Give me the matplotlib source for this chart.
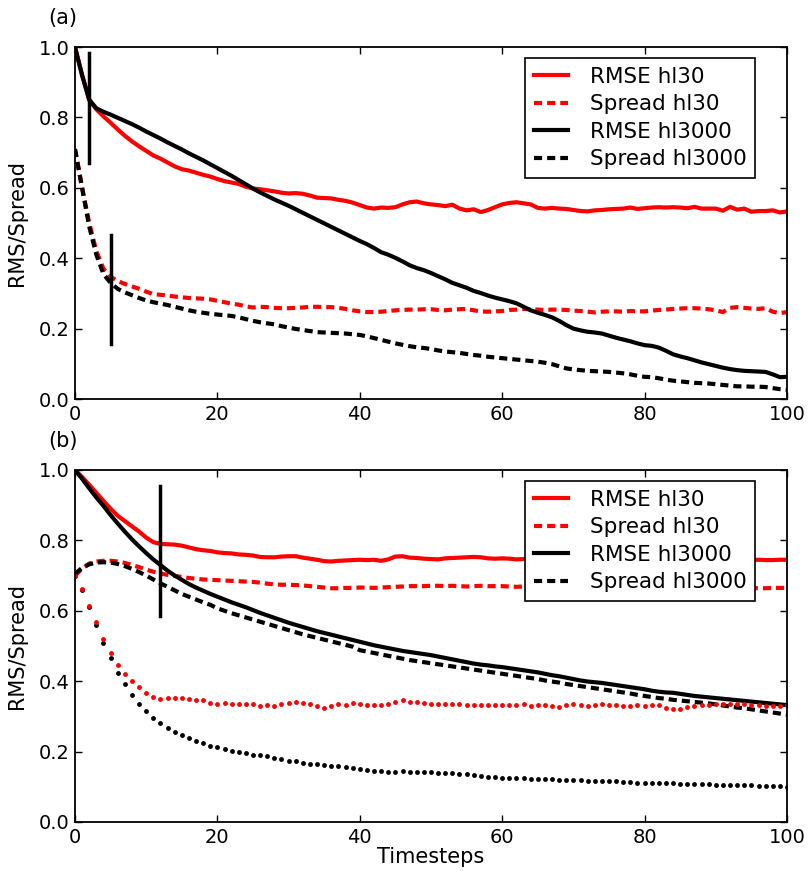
import matplotlib.pyplot as plt
import numpy as np

timesteps = np.arange(0, 101)

# panel (a)
a_rmse30 = [1.000, 0.920, 0.850, 0.823, 0.803, 0.785, 0.766, 0.748, 0.732, 0.718,
            0.705, 0.692, 0.683, 0.672, 0.661, 0.653, 0.649, 0.643, 0.637, 0.632,
            0.625, 0.619, 0.615, 0.611, 0.603, 0.598, 0.596, 0.593, 0.590, 0.586,
            0.584, 0.585, 0.583, 0.578, 0.572, 0.571, 0.570, 0.566, 0.563, 0.558,
            0.551, 0.544, 0.541, 0.544, 0.543, 0.545, 0.553, 0.559, 0.561, 0.556,
            0.553, 0.551, 0.548, 0.552, 0.541, 0.536, 0.539, 0.531, 0.537, 0.545,
            0.553, 0.557, 0.559, 0.556, 0.553, 0.543, 0.541, 0.543, 0.541, 0.540,
            0.537, 0.534, 0.533, 0.536, 0.537, 0.539, 0.540, 0.541, 0.544, 0.540,
            0.542, 0.544, 0.545, 0.544, 0.545, 0.544, 0.542, 0.546, 0.541, 0.541,
            0.541, 0.535, 0.546, 0.538, 0.541, 0.532, 0.534, 0.534, 0.536, 0.530,
            0.533]
a_spread30 = [0.710, 0.600, 0.500, 0.420, 0.370, 0.347, 0.335, 0.327, 0.320, 0.313,
              0.305, 0.298, 0.296, 0.294, 0.291, 0.289, 0.287, 0.286, 0.285, 0.283,
              0.279, 0.275, 0.271, 0.268, 0.263, 0.260, 0.262, 0.261, 0.259, 0.258,
              0.258, 0.259, 0.260, 0.262, 0.262, 0.261, 0.261, 0.259, 0.256, 0.252,
              0.249, 0.247, 0.247, 0.248, 0.250, 0.252, 0.253, 0.254, 0.254, 0.255,
              0.255, 0.253, 0.252, 0.254, 0.255, 0.256, 0.252, 0.249, 0.248, 0.249,
              0.250, 0.253, 0.254, 0.256, 0.255, 0.254, 0.253, 0.254, 0.254, 0.253,
              0.251, 0.250, 0.248, 0.246, 0.248, 0.249, 0.249, 0.248, 0.250, 0.249,
              0.249, 0.251, 0.253, 0.254, 0.256, 0.257, 0.258, 0.258, 0.257, 0.255,
              0.252, 0.247, 0.259, 0.261, 0.259, 0.257, 0.256, 0.258, 0.248, 0.244,
              0.247]
a_rmse3000 = [1.000, 0.920, 0.850, 0.826, 0.816, 0.808, 0.799, 0.790, 0.781, 0.771,
              0.760, 0.750, 0.740, 0.729, 0.719, 0.709, 0.698, 0.688, 0.678, 0.667,
              0.656, 0.645, 0.634, 0.622, 0.610, 0.598, 0.587, 0.577, 0.567, 0.558,
              0.549, 0.539, 0.529, 0.519, 0.509, 0.499, 0.489, 0.479, 0.469, 0.459,
              0.449, 0.440, 0.429, 0.417, 0.410, 0.401, 0.391, 0.380, 0.372, 0.366,
              0.358, 0.349, 0.340, 0.330, 0.323, 0.316, 0.307, 0.301, 0.294, 0.288,
              0.283, 0.278, 0.272, 0.262, 0.252, 0.245, 0.239, 0.232, 0.222, 0.210,
              0.200, 0.195, 0.191, 0.189, 0.186, 0.180, 0.174, 0.169, 0.164, 0.158,
              0.153, 0.151, 0.146, 0.137, 0.127, 0.121, 0.116, 0.110, 0.104, 0.099,
              0.094, 0.089, 0.085, 0.082, 0.080, 0.079, 0.078, 0.077, 0.070, 0.062,
              0.063]
a_spread3000 = [0.710, 0.600, 0.490, 0.410, 0.355, 0.330, 0.313, 0.303, 0.295, 0.287,
                0.280, 0.275, 0.271, 0.267, 0.262, 0.257, 0.252, 0.248, 0.245, 0.242,
                0.240, 0.238, 0.236, 0.232, 0.227, 0.222, 0.218, 0.215, 0.212, 0.207,
                0.203, 0.199, 0.196, 0.193, 0.190, 0.189, 0.188, 0.187, 0.186, 0.184,
                0.182, 0.178, 0.173, 0.168, 0.163, 0.158, 0.154, 0.150, 0.147, 0.145,
                0.142, 0.138, 0.135, 0.133, 0.131, 0.128, 0.125, 0.123, 0.120, 0.118,
                0.116, 0.114, 0.112, 0.110, 0.108, 0.106, 0.103, 0.099, 0.093, 0.087,
                0.084, 0.082, 0.080, 0.079, 0.078, 0.077, 0.075, 0.073, 0.070, 0.066,
                0.063, 0.062, 0.059, 0.055, 0.052, 0.050, 0.048, 0.046, 0.045, 0.044,
                0.042, 0.040, 0.038, 0.036, 0.036, 0.035, 0.035, 0.034, 0.031, 0.028,
                0.026]

# panel (b)
b_rmse30 = [1.000, 0.980, 0.958, 0.935, 0.912, 0.890, 0.870, 0.855, 0.840, 0.825,
            0.808, 0.795, 0.790, 0.789, 0.788, 0.785, 0.780, 0.775, 0.772, 0.770,
            0.766, 0.764, 0.763, 0.760, 0.759, 0.757, 0.753, 0.752, 0.752, 0.754,
            0.755, 0.755, 0.751, 0.748, 0.745, 0.741, 0.740, 0.742, 0.743, 0.744,
            0.745, 0.744, 0.745, 0.742, 0.746, 0.754, 0.755, 0.751, 0.750, 0.748,
            0.747, 0.746, 0.749, 0.750, 0.751, 0.752, 0.753, 0.752, 0.749, 0.748,
            0.749, 0.748, 0.746, 0.747, 0.748, 0.746, 0.745, 0.747, 0.746, 0.745,
            0.744, 0.746, 0.747, 0.745, 0.744, 0.743, 0.745, 0.746, 0.744, 0.743,
            0.744, 0.745, 0.743, 0.742, 0.744, 0.745, 0.744, 0.743, 0.745, 0.744,
            0.743, 0.742, 0.744, 0.745, 0.743, 0.744, 0.745, 0.744, 0.744, 0.745,
            0.745]
b_spread30 = [0.700, 0.720, 0.734, 0.740, 0.742, 0.742, 0.740, 0.736, 0.730, 0.724,
              0.717, 0.711, 0.706, 0.702, 0.699, 0.696, 0.693, 0.691, 0.689, 0.688,
              0.687, 0.686, 0.685, 0.684, 0.683, 0.682, 0.680, 0.677, 0.675, 0.674,
              0.674, 0.673, 0.672, 0.670, 0.668, 0.666, 0.664, 0.664, 0.665, 0.665,
              0.666, 0.666, 0.665, 0.666, 0.667, 0.668, 0.669, 0.670, 0.670, 0.670,
              0.671, 0.671, 0.670, 0.671, 0.670, 0.669, 0.670, 0.671, 0.670, 0.670,
              0.670, 0.669, 0.668, 0.669, 0.668, 0.667, 0.668, 0.667, 0.667, 0.666,
              0.667, 0.668, 0.667, 0.666, 0.666, 0.665, 0.666, 0.667, 0.666, 0.665,
              0.665, 0.666, 0.666, 0.665, 0.664, 0.665, 0.666, 0.665, 0.664, 0.664,
              0.665, 0.665, 0.664, 0.663, 0.664, 0.665, 0.664, 0.664, 0.665, 0.665,
              0.665]
b_rmse3000 = [1.000, 0.975, 0.948, 0.922, 0.898, 0.872, 0.848, 0.825, 0.803, 0.783,
              0.764, 0.746, 0.730, 0.714, 0.700, 0.688, 0.676, 0.666, 0.657, 0.648,
              0.640, 0.632, 0.624, 0.617, 0.610, 0.602, 0.594, 0.587, 0.580, 0.573,
              0.566, 0.560, 0.554, 0.548, 0.542, 0.537, 0.532, 0.527, 0.522, 0.517,
              0.512, 0.507, 0.502, 0.498, 0.494, 0.490, 0.486, 0.483, 0.480, 0.477,
              0.474, 0.470, 0.466, 0.462, 0.458, 0.454, 0.450, 0.447, 0.445, 0.442,
              0.440, 0.437, 0.434, 0.431, 0.428, 0.425, 0.421, 0.417, 0.414, 0.410,
              0.406, 0.402, 0.399, 0.397, 0.395, 0.392, 0.389, 0.386, 0.383, 0.380,
              0.377, 0.373, 0.370, 0.368, 0.367, 0.364, 0.361, 0.358, 0.356, 0.354,
              0.352, 0.350, 0.348, 0.346, 0.344, 0.342, 0.340, 0.338, 0.336, 0.334,
              0.332]
b_spread3000 = [0.705, 0.722, 0.732, 0.737, 0.738, 0.737, 0.733, 0.727, 0.719, 0.710,
                0.700, 0.689, 0.678, 0.668, 0.658, 0.648, 0.640, 0.632, 0.624, 0.617,
                0.607, 0.600, 0.593, 0.587, 0.581, 0.575, 0.569, 0.563, 0.557, 0.551,
                0.545, 0.539, 0.533, 0.528, 0.523, 0.518, 0.513, 0.508, 0.503, 0.498,
                0.488, 0.484, 0.480, 0.476, 0.472, 0.468, 0.464, 0.460, 0.457, 0.454,
                0.451, 0.448, 0.445, 0.442, 0.439, 0.436, 0.433, 0.430, 0.427, 0.424,
                0.421, 0.418, 0.415, 0.412, 0.409, 0.406, 0.402, 0.399, 0.396, 0.392,
                0.389, 0.386, 0.383, 0.380, 0.377, 0.374, 0.371, 0.368, 0.365, 0.361,
                0.358, 0.355, 0.352, 0.350, 0.347, 0.345, 0.343, 0.341, 0.339, 0.337,
                0.334, 0.331, 0.328, 0.325, 0.323, 0.320, 0.317, 0.314, 0.311, 0.308,
                0.305]
b_dots30 = [0.700, 0.662, 0.614, 0.568, 0.520, 0.480, 0.446, 0.420, 0.400, 0.384,
            0.367, 0.356, 0.350, 0.351, 0.351, 0.353, 0.349, 0.347, 0.347, 0.338,
            0.335, 0.338, 0.335, 0.335, 0.335, 0.334, 0.329, 0.333, 0.329, 0.335,
            0.337, 0.341, 0.337, 0.335, 0.329, 0.324, 0.329, 0.334, 0.333, 0.337,
            0.335, 0.333, 0.333, 0.333, 0.334, 0.341, 0.346, 0.340, 0.342, 0.338,
            0.335, 0.336, 0.334, 0.335, 0.336, 0.331, 0.332, 0.332, 0.333, 0.331,
            0.332, 0.331, 0.333, 0.334, 0.330, 0.333, 0.332, 0.330, 0.328, 0.333,
            0.335, 0.332, 0.330, 0.331, 0.334, 0.333, 0.331, 0.329, 0.330, 0.331,
            0.330, 0.331, 0.331, 0.325, 0.321, 0.320, 0.326, 0.330, 0.332, 0.333,
            0.334, 0.336, 0.335, 0.336, 0.334, 0.331, 0.332, 0.330, 0.329, 0.330,
            0.331]
b_dots3000 = [0.700, 0.660, 0.612, 0.560, 0.508, 0.465, 0.424, 0.392, 0.360, 0.335,
              0.315, 0.296, 0.280, 0.266, 0.256, 0.247, 0.238, 0.231, 0.224, 0.217,
              0.213, 0.207, 0.203, 0.199, 0.196, 0.191, 0.189, 0.187, 0.183, 0.180,
              0.174, 0.172, 0.168, 0.166, 0.164, 0.162, 0.160, 0.158, 0.156, 0.154,
              0.151, 0.149, 0.146, 0.145, 0.143, 0.143, 0.144, 0.142, 0.141, 0.142,
              0.141, 0.139, 0.138, 0.138, 0.137, 0.136, 0.133, 0.130, 0.128, 0.127,
              0.126, 0.126, 0.125, 0.124, 0.123, 0.122, 0.122, 0.121, 0.120, 0.120,
              0.119, 0.118, 0.117, 0.116, 0.116, 0.115, 0.115, 0.114, 0.113, 0.112,
              0.112, 0.112, 0.111, 0.111, 0.110, 0.109, 0.109, 0.108, 0.108, 0.107,
              0.106, 0.106, 0.105, 0.105, 0.104, 0.104, 0.103, 0.103, 0.102, 0.101,
              0.100]

# vertical markers: (timestep, ymin, ymax)
a_bars = [(2, 0.67, 0.983), (5, 0.156, 0.466)]
b_bars = [(12, 0.585, 0.955)]

plt.rcParams['font.family'] = 'DejaVu Sans'
fig = plt.figure(figsize=(8.08, 8.71), dpi=100)
ax_a = fig.add_axes([0.0928, 0.5419, 0.8812, 0.4041])
ax_b = fig.add_axes([0.0928, 0.0563, 0.8812, 0.4041])

lw = 3
dash = (1.95, 1.2)  # scaled by linewidth


def style(ax):
    ax.set_xlim(0, 100)
    ax.set_ylim(0, 1)
    ax.set_xticks([0, 20, 40, 60, 80, 100])
    ax.set_yticks([0.0, 0.2, 0.4, 0.6, 0.8, 1.0])
    ax.tick_params(direction='in', top=True, right=True, length=5, width=1,
                   labelsize=14, pad=4)
    for s in ax.spines.values():
        s.set_linewidth(1.3)
    ax.set_ylabel('RMS/Spread', fontsize=15, labelpad=8)
    leg = ax.legend(loc='upper right', bbox_to_anchor=(0.955, 0.969),
                    borderaxespad=0, fontsize=15.5, handlelength=1.6,
                    handletextpad=1.0, labelspacing=0.35, borderpad=0.4,
                    fancybox=False, framealpha=1)
    leg.get_frame().set_edgecolor('black')
    leg.get_frame().set_linewidth(1.2)


# panel (a)
ax_a.plot(timesteps, a_rmse30, color='red', lw=lw, label='RMSE hl30')
ax_a.plot(timesteps, a_spread30, color='red', lw=lw, ls='--', dashes=dash, label='Spread hl30')
ax_a.plot(timesteps, a_rmse3000, color='black', lw=lw, label='RMSE hl3000')
ax_a.plot(timesteps, a_spread3000, color='black', lw=lw, ls='--', dashes=dash, label='Spread hl3000')
for t, y0, y1 in a_bars:
    ax_a.plot([t, t], [y0, y1], color='black', lw=2.5)
style(ax_a)

# panel (b)
ax_b.plot(timesteps, b_rmse30, color='red', lw=lw, label='RMSE hl30')
ax_b.plot(timesteps, b_spread30, color='red', lw=lw, ls='--', dashes=dash, label='Spread hl30')
ax_b.plot(timesteps, b_rmse3000, color='black', lw=lw, label='RMSE hl3000')
ax_b.plot(timesteps, b_spread3000, color='black', lw=lw, ls='--', dashes=dash, label='Spread hl3000')
ax_b.plot(timesteps, b_dots3000, 'o', color='black', ms=3.5, mew=0)
ax_b.plot(timesteps, b_dots30, 'o', color='red', ms=3.5, mew=0)
for t, y0, y1 in b_bars:
    ax_b.plot([t, t], [y0, y1], color='black', lw=2.5)
style(ax_b)
ax_b.set_xlabel('Timesteps', fontsize=15, labelpad=0)

fig.text(0.078, 0.979, '(a)', fontsize=15, ha='center', va='center')
fig.text(0.078, 0.494, '(b)', fontsize=15, ha='center', va='center')

fig.savefig('out.png', dpi=100)
